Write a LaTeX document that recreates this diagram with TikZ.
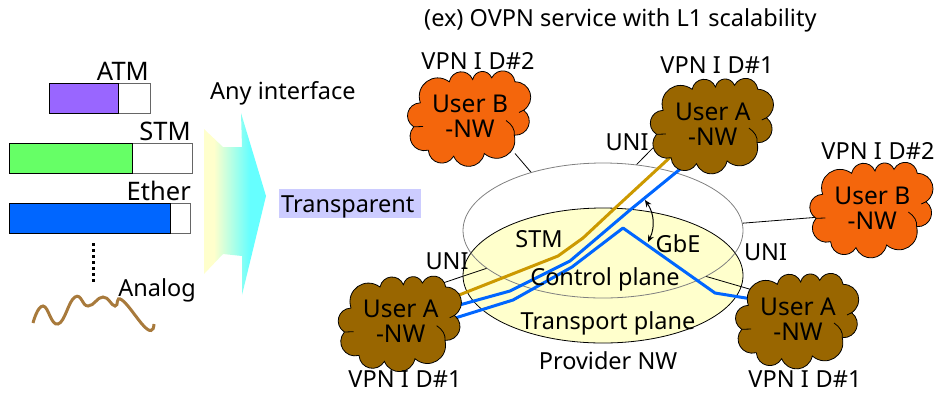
\documentclass[tikz,border=0pt]{standalone}
\usepackage{fontspec}
\setmainfont{Noto Sans}
\usetikzlibrary{shapes.geometric, arrows.meta}
\definecolor{cloudbrown}{HTML}{996600}
\definecolor{cloudorange}{HTML}{F4660C}
\definecolor{goldline}{HTML}{CC9900}
\definecolor{blueline}{HTML}{0066FF}
\definecolor{planeyellow}{HTML}{FFFFCC}
\definecolor{wavebrown}{HTML}{A87A3C}
\definecolor{boxviolet}{HTML}{CCCCFF}
\definecolor{atmviolet}{HTML}{9966FF}
\definecolor{stmgreen}{HTML}{66FF66}
\pgfdeclarehorizontalshading{anyshade}{100bp}{color(0bp)=(planeyellow); color(25bp)=(planeyellow); color(33bp)=(planeyellow); color(62bp)=(cyan!60!white); color(100bp)=(cyan!60!white)}
\pgfdeclarelayer{base}
\pgfdeclarelayer{wires}
\pgfsetlayers{base,wires,main}
\newcommand{\vpnid}[1]{VPN I\kern7pt D\##1}
\tikzset{
	lbl/.style={inner sep=0pt, font=\fontsize{23.5}{25}\selectfont},
	lblwide/.style={inner sep=0pt, font=\fontsize{25.5}{25}\selectfont},
	cloudtxt/.style={inner sep=0pt, align=center, font=\fontsize{24.5}{25}\selectfont},
	puff/.style={bend right=72, looseness=1.35},
	plane/.style={ellipse, inner sep=0pt, minimum width=280pt},
	thinwire/.style={line width=0.8pt},
	fatwire/.style={line width=3pt, line join=round},
	bar/.style={line width=1pt}
}
\begin{document}
\begin{tikzpicture}[x=1pt, y=-1pt]
		\useasboundingbox (0,0) rectangle (941,392);
		\draw[bar, fill=white, draw=gray!80!black] (49.5,83.5) rectangle (150,113);
		\draw[bar, fill=atmviolet] (49.5,83.5) rectangle (118,113);
		\draw[bar, fill=white, draw=gray!80!black] (9.5,143.5) rectangle (192,173);
		\draw[bar, fill=stmgreen] (9.5,143.5) rectangle (132,173);
		\draw[bar, fill=white, draw=gray!80!black] (9.5,203.5) rectangle (190,233);
		\draw[bar, fill=blueline] (9.5,203.5) rectangle (170,233);
		\node[lblwide, anchor=east] (atm) at (149,71.5) {ATM};
		\node[lblwide, anchor=east] (stm) at (191,131.5) {STM};
		\node[lblwide, anchor=east] (ether) at (191,191) {Ether};
		\node[lbl, anchor=east] (analog) at (196,290) {Analog};
		\draw[line width=3pt, dash pattern=on 3pt off 3pt] (93.5,243) -- (93.5,283);
		\draw[wavebrown, line width=3pt] plot[smooth, tension=0.8] coordinates {(33,323) (43,306) (58,324) (75,297) (88,306) (103,297) (115,306) (122,300) (147,329) (154,324)};
		\path[shading=anyshade] (204,129) -- (223,147) -- (242,147) -- (241,113) -- (266,196) -- (242,295) -- (242,256) -- (223,254) -- (204,274) -- cycle;
		\node[lbl, anchor=west] (anyif) at (210,93.5) {Any interface};
		\node[lbl, anchor=west, fill=boxviolet, minimum width=142pt, minimum height=29pt, text width=138pt, text height=17pt, text depth=0pt, align=left] (transparent) at (279,203.5) {Transparent};
		\node[lbl, anchor=west] (title) at (424,20) {(ex) OVPN service with L1 scalability};
		\begin{pgfonlayer}{base}
			\node[plane, fill=planeyellow, draw=black, line width=0.8pt, minimum height=135pt] (transport) at (603,275.5) {};
			\node[plane, draw=gray, line width=0.8pt, minimum height=135pt] (control) at (603,230.5) {};
		\end{pgfonlayer}
		\foreach \nm/\cx/\cy/\col/\who in {userbl/470/118.5/cloudorange/B, useratop/712.8/126/cloudbrown/A, userbr/872.3/210/cloudorange/B, useral/400.7/323.7/cloudbrown/A, userar/798/321/cloudbrown/A} {
			\begin{scope}[shift={(\cx,\cy)}]
				\draw[thinwire, fill=\col] (-49.7,-15.7) to[puff] (-56.3,8.3) to[puff] (-41.7,31.7) to[puff] (-16.3,37.7) to[puff] (14.3,35) to[puff] (44.3,16.7) to[puff] (53.7,-8.3) to[puff] (45,-36.7) to[puff] (21.7,-40.7) to[puff] (2.7,-39) to[puff] (-20.7,-36.7) to[puff] cycle;
				\draw[thinwire] (36,2) .. controls (42,6) and (45,11) .. (44.3,16.7);
				\draw[thinwire] (-56.3,8.3) -- (-47,8);
				\draw[thinwire] (53.7,-8.3) -- (49,-6);
				\node[cloudtxt] (\nm) at (0,-2) {User \who\\-NW};
			\end{scope}
		}
		\begin{pgfonlayer}{wires}
			\draw[thinwire] ([shift={(45,37)}]userbl.center) -- (control.141);
			\draw[thinwire] ([shift={(-60,24)}]useratop.center) -- (control.63);
			\draw[thinwire] ([shift={(-52,9)}]userbr.center) -- (control.3);
			\draw[thinwire] ([shift={(40,-38)}]useral.center) -- (control.198);
			\draw[thinwire] ([shift={(-35,-26)}]userar.center) -- (control.336);
			\draw[fatwire, goldline] ([shift={(49,-23)}]useral.center) -- (558,256) -- (583,238) -- (613,210) -- ([shift={(-38,29)}]useratop.center);
			\draw[fatwire, blueline] ([shift={(49,-14)}]useral.center) -- (510,291) -- (570,261) -- (630,210) -- ([shift={(-24,38)}]useratop.center);
			\draw[fatwire, blueline] ([shift={(49,-2)}]useral.center) -- (513,300) -- (572,267) -- (623,228) -- (715,293) -- ([shift={(-40,-19)}]userar.center);
		\end{pgfonlayer}
		\coordinate (swa) at (645,200);
		\coordinate (swb) at (648,242);
		\draw[{Stealth[length=7pt,width=6pt]}-{Stealth[length=7pt,width=6pt]}, line width=1pt] (swa) to[bend left=30] (swb);
		\node[lbl] (stmlbl) at (539,239) {STM};
		\node[lbl] (gbe) at (678,243.5) {GbE};
		\node[lbl] (ctrl) at (605,279) {Control plane};
		\node[lbl] (trans) at (608,323.5) {Transport plane};
		\node[lbl] (provider) at (608,361) {Provider NW};
		\node[lbl] (unia) at (627,142) {UNI};
		\node[lbl] (unib) at (447,261.5) {UNI};
		\node[lbl] (unic) at (765.5,252.5) {UNI};
		\node[lbl] (vpna) at (478,61) {\vpnid{2}};
		\node[lbl] (vpnb) at (717,65) {\vpnid{1}};
		\node[lbl] (vpnc) at (878,151) {\vpnid{2}};
		\node[lbl] (vpnd) at (405,379) {\vpnid{1}};
		\node[lbl] (vpne) at (805,379) {\vpnid{1}};
	\end{tikzpicture}
\end{document}
